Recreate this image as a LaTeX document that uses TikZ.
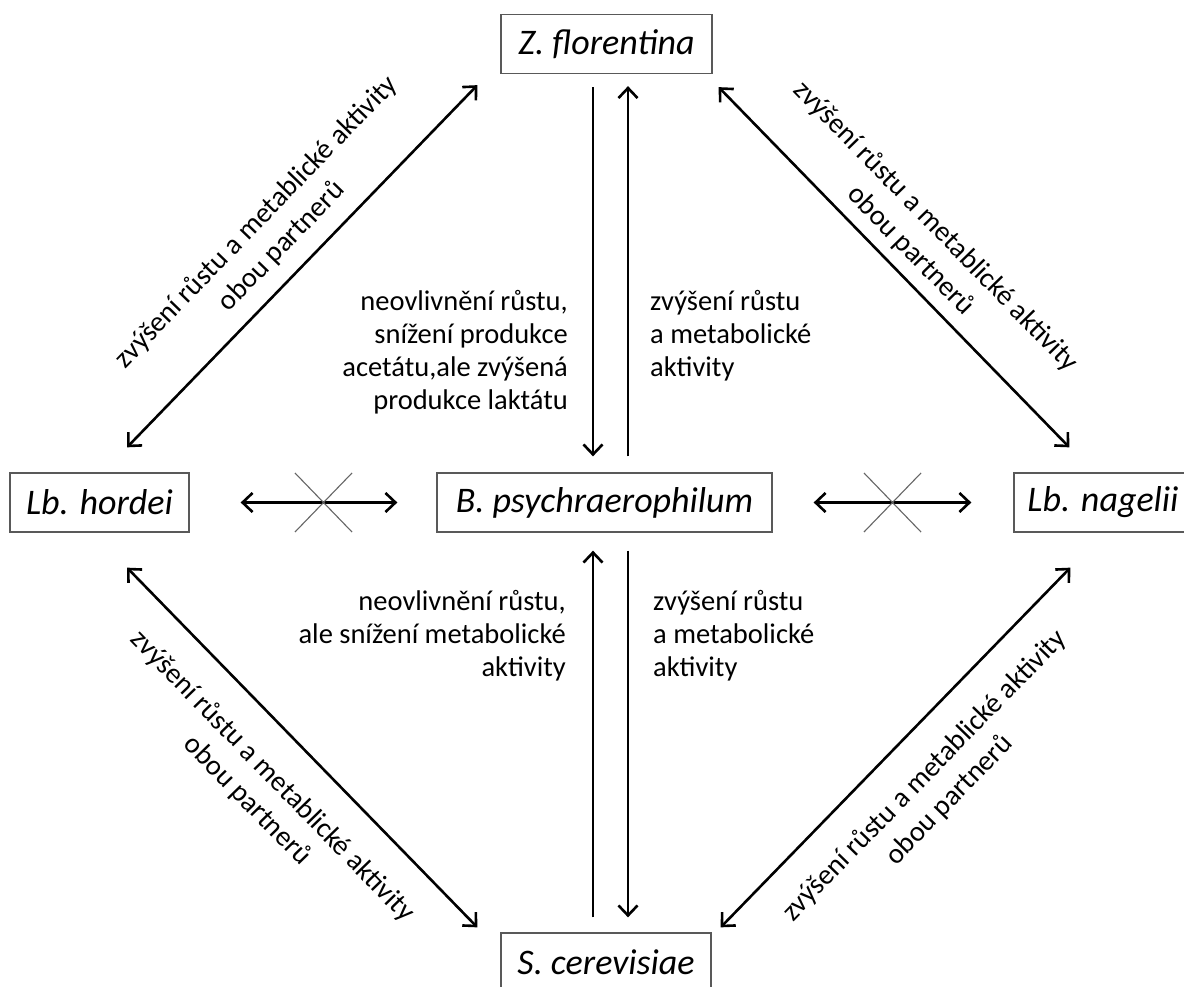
\documentclass[tikz,border=0pt]{standalone}
\usepackage{fontspec}
\setmainfont{Carlito}
\usetikzlibrary{arrows.meta,calc}
\begin{document}
\begin{tikzpicture}[x=1pt,y=-1pt,
  box/.style={draw=black!65,line width=1.3pt,minimum height=59pt,inner sep=0pt,font=\fontsize{36}{42}\selectfont\itshape},
  lbl/.style={font=\fontsize{28.5}{33}\selectfont,inner sep=0pt},
  dlbl/.style={font=\fontsize{28.5}{35}\selectfont,inner sep=0pt,align=center},
  dbl/.style={line width=2.6pt,{Straight Barb[length=10pt,width=19pt]}-{Straight Barb[length=10pt,width=19pt]}},
  one/.style={line width=2.6pt,-{Straight Barb[length=10pt,width=19pt]}},
  crs/.style={draw=black!60,line width=1.1pt}]
\useasboundingbox (0,0) rectangle (1184,987);
\clip (0,0) rectangle (1184,987);
\fill[white] (0,0) rectangle (1184,987);
% boxes
\node[box,minimum width=211pt] (z) at (606.5,44) {Z. florentina};
\node[box,minimum width=179pt] (h) at (99.5,502.5) {Lb. hordei};
\node[box,minimum width=335pt] (b) at (604.5,502.5) {B. psychraerophilum};
\node[box,minimum width=178pt] (n) at (1103,502.5) {Lb. nagelii};
\node[box,minimum width=210pt] (s) at (606,962.5) {S. cerevisiae};
% vertical arrows
\draw[one] ([shift={(-13.5,13)}]z.south) -- ([shift={(-11.5,-16)}]b.north);
\draw[one] ([shift={(23.5,-16)}]b.north) -- ([shift={(21.5,12)}]z.south);
\draw[one] ([shift={(-13,-15)}]s.north) -- ([shift={(-11.5,18)}]b.south);
\draw[one] ([shift={(23.5,18)}]b.south) -- ([shift={(22,-15)}]s.north);
% horizontal crossed arrows
\draw[dbl] ([shift={(51,0)}]h.east) -- ([shift={(-39,0)}]b.west);
\draw[dbl] ([shift={(41,0)}]b.east) -- ([shift={(-42,0)}]n.west);
\draw[crs] (295,473) -- (352,532) (295,532) -- (352,473);
\draw[crs] (864,473) -- (921,532) (864,532) -- (921,473);
% diagonal arrow ends
\coordinate (tlA) at ([shift={(27.5,-25)}]h.north);
\coordinate (tlB) at ([shift={(-23,11)}]z.south west);
\coordinate (trA) at ([shift={(6,13)}]z.south east);
\coordinate (trB) at ([shift={(56,-25)}]n.north west);
\coordinate (blA) at ([shift={(27.5,35)}]h.south);
\coordinate (blB) at ([shift={(-23,-5)}]s.north west);
\coordinate (brA) at ([shift={(9,-5)}]s.north east);
\coordinate (brB) at ([shift={(57,35)}]n.south west);
\draw[dbl] (tlA) -- (tlB);
\draw[dbl] (trA) -- (trB);
\draw[dbl] (blA) -- (blB);
\draw[dbl] (brA) -- (brB);
% diagonal labels
\node[dlbl,rotate=46] (dtl) at ($(tlA)!0.5!(tlB)!46pt!90:(tlB)$) {zvýšení růstu a metablické aktivity\\obou partnerů};
\node[dlbl,rotate=-45.7] (dtr) at ($(trA)!0.5!(trB)!41pt!90:(trB)$) {zvýšení růstu a metablické aktivity\\obou partnerů};
\node[dlbl,rotate=-45.8] (dbl) at ($(blA)!0.5!(blB)!59pt!-90:(blB)$) {zvýšení růstu a metablické aktivity\\obou partnerů};
\node[dlbl,rotate=45.8] (dbr) at ($(brA)!0.5!(brB)!58pt!-90:(brB)$) {zvýšení růstu a metablické aktivity\\obou partnerů};
% middle labels
\node[lbl,align=right,anchor=north east] (l1) at (568,290) {neovlivnění růstu,\\snížení produkce\\acetátu,ale zvýšená\\produkce laktátu};
\node[lbl,align=left,anchor=north west] (l2) at (650,290) {zvýšení růstu\\a metabolické\\aktivity};
\node[lbl,align=right,anchor=north east] (l3) at (566,590) {neovlivnění růstu,\\ale snížení metabolické\\aktivity};
\node[lbl,align=left,anchor=north west] (l4) at (653,590) {zvýšení růstu\\a metabolické\\aktivity};
\end{tikzpicture}
\end{document}
